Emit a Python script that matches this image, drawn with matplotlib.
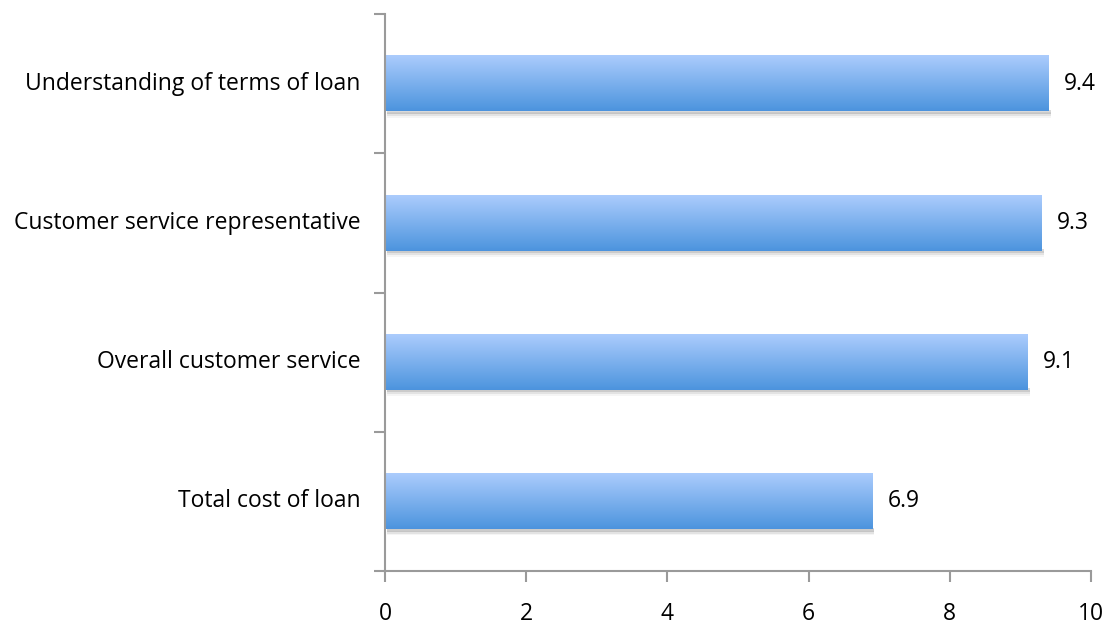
import matplotlib.pyplot as plt
import matplotlib.patches as mpatches
import numpy as np

plt.rcParams['font.family'] = ['Open Sans', 'DejaVu Sans']

categories = ["Total cost of loan", "Overall customer service",
              "Customer service representative", "Understanding of terms of loan"]
scores = [6.9, 9.1, 9.3, 9.4]
xticks = [0, 2, 4, 6, 8, 10]

fig = plt.figure(figsize=(11.09, 6.25), dpi=100)
ax = fig.add_axes([0.3472, 0.0864, 0.6366, 0.8912])

bar_h = 0.4
ypos = np.arange(len(categories))
fs = 16.5

# vertical gradient, light on top, darker at the bottom
grad = np.linspace(0, 1, 64).reshape(-1, 1)
top_c = np.array([0.67, 0.80, 0.99])
bot_c = np.array([0.30, 0.58, 0.87])
img = top_c * (1 - grad[..., None]) + bot_c * grad[..., None]

for y, v in zip(ypos, scores):
    # soft drop shadow under each bar
    for k, a in enumerate([0.28, 0.15, 0.07]):
        ax.add_patch(mpatches.Rectangle((0.03, y - bar_h / 2 - 0.018 - 0.013 * k), v, 0.03,
                                        color='#7a7a7a', alpha=a, lw=0, zorder=1))
    ax.imshow(img, extent=(0, v, y - bar_h / 2, y + bar_h / 2), origin='upper',
              aspect='auto', zorder=2)
    ax.text(v + 0.22, y, f"{v}", va='center', ha='left', fontsize=fs)

ax.set_xlim(0, 10)
ax.set_ylim(-0.5, len(categories) - 0.5)

ax.set_xticks(xticks)
ax.set_xticklabels([str(t) for t in xticks], fontsize=fs)
ax.set_yticks(np.arange(-0.5, len(categories), 1.0))
ax.set_yticklabels([])
for y, c in zip(ypos, categories):
    ax.text(-0.35, y, c, ha='right', va='center', fontsize=fs)

for s in ['top', 'right']:
    ax.spines[s].set_visible(False)
for s in ['left', 'bottom']:
    ax.spines[s].set_color('#9a9a9a')
    ax.spines[s].set_linewidth(1.5)
ax.tick_params(axis='both', color='#9a9a9a', width=1.5, length=8)
ax.tick_params(axis='x', pad=14)

fig.savefig('out.png', dpi=100)
